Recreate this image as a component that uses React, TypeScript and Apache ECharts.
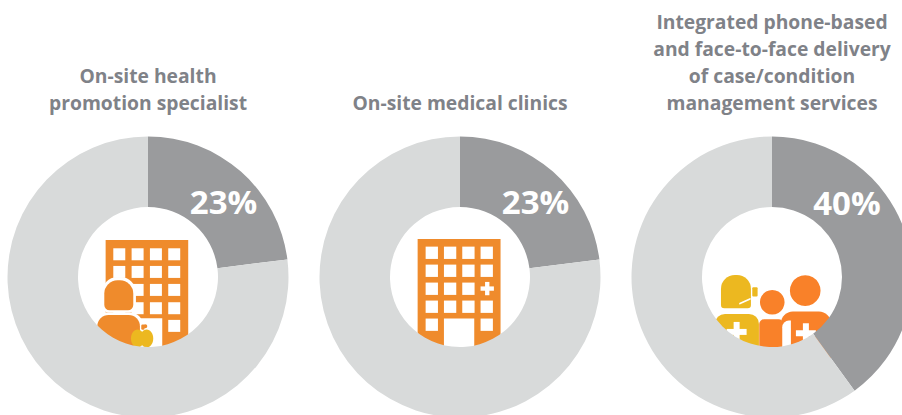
import React, { useEffect, useRef } from "react";
import * as echarts from "echarts";

const titles = [
  "On-site health\npromotion specialist",
  "On-site medical clinics",
  "Integrated phone-based\nand face-to-face delivery\nof case/condition\nmanagement services",
];
const shares = [23, 23, 40];
const labels = ["23%", "23%", "40%"];

const CX = [148, 460, 772];
const CY = 277;
const GREY = "#9a9b9d";
const LIGHT = "#d8dada";
const TEXT = "#7f8288";
const ORANGE = "#ef8b2c";
const ORANGE2 = "#f98129";
const YELLOW = "#ecb820";
const WHITE = "#ffffff";

const rect = (x: number, y: number, w: number, h: number, fill: string, r: any = 0) => ({
  type: "rect", silent: true, shape: { x, y, width: w, height: h, r }, style: { fill },
});
const circle = (cx: number, cy: number, r: number, fill: string) => ({
  type: "circle", silent: true, shape: { cx, cy, r }, style: { fill },
});
const ellipse = (cx: number, cy: number, rx: number, ry: number, fill: string) => ({
  type: "ellipse", silent: true, shape: { cx, cy, rx, ry }, style: { fill },
});
const plus = (cx: number, cy: number, arm: number, t: number, fill: string) => [
  rect(cx - arm, cy - t / 2, arm * 2, t, fill),
  rect(cx - t / 2, cy - arm, t, arm * 2, fill),
];
const group = (x: number, y: number, children: any[]) => ({
  type: "group", x, y, scaleX: 1 / 3, scaleY: 1 / 3, children,
});

const icon1 = () => {
  const kids: any[] = [rect(107, 120, 248, 340, ORANGE)];
  [145, 198, 252, 307].forEach((y) =>
    [130, 185, 240, 295].forEach((x) => kids.push(rect(x, y, 36, 36, WHITE)))
  );
  kids.push(rect(295, 360, 36, 36, WHITE));
  kids.push(rect(200, 355, 77, 110, WHITE));
  kids.push(rect(96, 232, 102, 106, WHITE, [45, 45, 20, 20]));
  kids.push(rect(103, 241, 87, 90, ORANGE, [40, 40, 16, 16]));
  kids.push(rect(74, 337, 145, 130, WHITE, [40, 40, 0, 0]));
  kids.push(rect(82, 345, 128, 120, ORANGE, [34, 34, 0, 0]));
  kids.push(ellipse(203, 416, 20, 27, YELLOW));
  kids.push(ellipse(230, 416, 20, 27, YELLOW));
  kids.push(rect(214, 374, 10, 16, ORANGE, 4));
  kids.push(ellipse(226, 379, 6, 6, ORANGE));
  return group(70, 200, kids);
};

const icon2 = () => {
  const kids: any[] = [rect(98, 117, 249, 340, ORANGE)];
  [140, 194, 248, 302].forEach((y) =>
    [122, 177, 232, 287].forEach((x) => {
      if (!(y === 248 && x === 287)) kids.push(rect(x, y, 37, 37, WHITE));
    })
  );
  kids.push(...plus(307, 266, 20, 13, WHITE));
  kids.push(rect(122, 356, 37, 37, WHITE));
  kids.push(rect(287, 356, 37, 37, WHITE));
  kids.push(rect(177, 356, 91, 110, WHITE));
  return group(385, 200, kids);
};

const icon3 = () => {
  const kids: any[] = [
    rect(78, 75, 90, 100, YELLOW, [42, 42, 10, 10]),
    rect(172, 112, 16, 28, YELLOW, 3),
    {
      type: "line", silent: true,
      shape: { x1: 135, y1: 161, x2: 165, y2: 147 },
      style: { stroke: WHITE, lineWidth: 5, lineCap: "round" },
    },
    rect(60, 192, 132, 140, YELLOW, [30, 30, 0, 0]),
    ...plus(125, 246, 30, 18, WHITE),
    circle(232, 157, 37, ORANGE2),
    rect(193, 208, 72, 110, ORANGE2, [14, 14, 0, 0]),
    circle(331, 122, 46, ORANGE2),
    rect(258, 185, 150, 140, ORANGE2, [36, 36, 0, 0]),
    rect(262, 212, 26, 110, WHITE, [20, 0, 0, 0]),
    ...plus(333, 250, 30, 18, WHITE),
  ];
  return group(695, 250, kids);
};

// Each title's last line sits on the same baseline
const titleLine = 27;
const titleBottom = 116;

export default function App() {
  const ref = useRef<HTMLDivElement>(null);
  useEffect(() => {
    document.body.style.margin = "0";
    document.body.style.overflow = "hidden";
    const chart = echarts.init(ref.current!, null, { renderer: "svg" });
    const labelOffsets = [[4, 6], [4, 6], [-28, -41]];
    chart.setOption({
      animation: false,
      backgroundColor: "#ffffff",
      title: titles.map((t, i) => ({
        text: t,
        left: CX[i],
        top: titleBottom - t.split("\n").length * titleLine,
        textAlign: "center",
        padding: 0,
        itemGap: 0,
        textStyle: {
          fontFamily: "'Open Sans'",
          fontWeight: 700,
          fontSize: 19.3,
          lineHeight: titleLine,
          color: TEXT,
        },
      })),
      series: shares.map((v, i) => ({
        type: "pie",
        silent: true,
        center: [CX[i], CY],
        radius: [70, 140.5],
        startAngle: 90,
        clockwise: true,
        z: 2,
        labelLine: { show: false },
        data: [
          {
            value: v,
            itemStyle: { color: GREY },
            label: {
              show: true,
              position: "inside",
              formatter: labels[i],
              offset: labelOffsets[i],
              color: "#ffffff",
              fontFamily: "'Open Sans'",
              fontWeight: 700,
              fontSize: 33,
            },
          },
          { value: 100 - v, itemStyle: { color: LIGHT }, label: { show: false } },
        ],
      })),
      graphic: { elements: [icon1(), icon2(), icon3()] },
    });
    return () => chart.dispose();
  }, []);
  return <div ref={ref} style={{ width: 902, height: 415 }} />;
}
